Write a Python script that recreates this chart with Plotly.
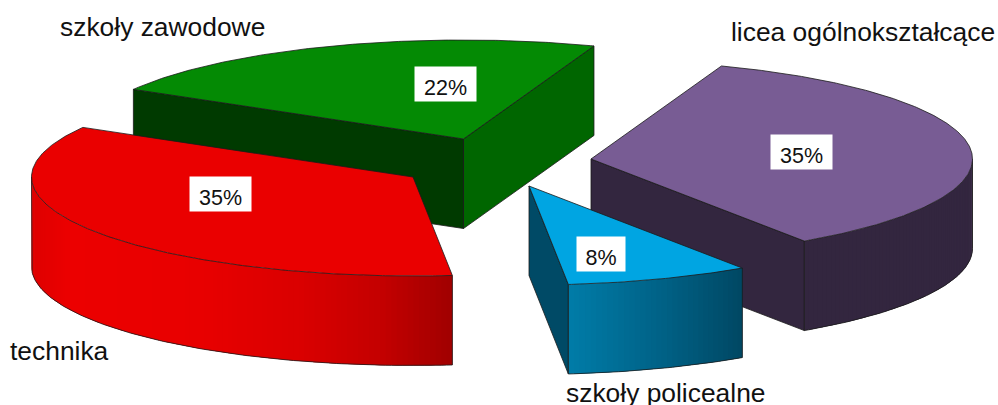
import math
import plotly.graph_objects as go

# --- data ---
categories = ["szkoły zawodowe", "technika", "szkoły policealne", "licea ogólnokształcące"]
values = [22.2, 35.0, 7.8, 35.0]
start_angle = 70.0

# --- style / layout ---
apex_x = [463.5, 413, 529, 591]
apex_y = [139, 177, 186, 159]
RX, RY, DEPTH = 381.5, 99, 89.5
top_col = ["#048a04", "#ea0000", "#00a5e2", "#785c94"]
# wall gradient: (x pixel, rgb) stops
wall_stops = [
    [(0, (0, 58, 0)), (998, (0, 58, 0))],
    [(31, (222, 0, 0)), (70, (236, 0, 0)), (200, (232, 0, 0)), (300, (218, 0, 0)), (380, (196, 0, 0)), (453, (160, 0, 0))],
    [(569, (0, 124, 168)), (660, (0, 98, 135)), (741, (0, 72, 100))],
    [(0, (51, 38, 63)), (998, (51, 38, 63))],
]
cut_start_col = ["#006600", None, "#004a66", "#33263f"]   # face at the slice's first edge
cut_end_col = ["#003a00", None, None, None]               # face at the slice's last edge
label_x = [58, 8, 564, 729]
label_y = [27, 351, 393, 32]
pct_x = [445.5, 220.5, 601, 801.5]
pct_y = [84, 194, 254, 152]
pct_w = [59, 59, 46, 59]
pct_h = 32
OUT = "#1a1a1a"

fig = go.Figure()


def pt(i, deg, dz=0.0):
    a = math.radians(deg)
    return apex_x[i] + RX * math.cos(a), apex_y[i] - RY * math.sin(a) + dz


def poly(xs, ys, fill, line=None, w=0.8):
    fig.add_trace(go.Scatter(
        x=xs + xs[:1], y=ys + ys[:1], mode="lines", fill="toself", fillcolor=fill,
        line=dict(color=line or fill, width=w), hoverinfo="skip", showlegend=False))


def grad(stops, x):
    if x <= stops[0][0]:
        return stops[0][1]
    for (x0, c0), (x1, c1) in zip(stops, stops[1:]):
        if x <= x1:
            t = (x - x0) / (x1 - x0)
            return tuple(round(a + (b - a) * t) for a, b in zip(c0, c1))
    return stops[-1][1]


# slice angle ranges from the values
ranges = []
a0 = start_angle
for v in values:
    a1 = a0 + v * 3.6
    ranges.append((a0, a1))
    a0 = a1


def draw_slice(i):
    a0, a1 = ranges[i]
    ax, ay = apex_x[i], apex_y[i]
    # straight cut faces
    if cut_start_col[i]:
        x, y = pt(i, a0)
        poly([ax, x, x, ax], [ay, y, y + DEPTH, ay + DEPTH], cut_start_col[i], OUT)
    if cut_end_col[i]:
        x, y = pt(i, a1)
        poly([ax, x, x, ax], [ay, y, y + DEPTH, ay + DEPTH], cut_end_col[i], OUT)
    # outer wall (only the part that faces the viewer)
    lo = max(a0, 180.0)
    hi = min(a1, 360.0)
    if hi > lo:
        n = max(2, int((hi - lo) * 1.2))
        angs = [lo + (hi - lo) * k / n for k in range(n + 1)]
        for k in range(n):
            # each strip overlaps the following ones so that no seam shows
            seg = angs[k:min(k + 3, n + 1)]
            top = [pt(i, a) for a in seg]
            xs = [p[0] for p in top]
            ys = [p[1] for p in top]
            c = grad(wall_stops[i], (pt(i, angs[k])[0] + pt(i, angs[k + 1])[0]) / 2)
            fig.add_trace(go.Scatter(
                x=xs + xs[::-1] + xs[:1], y=ys + [y + DEPTH for y in ys[::-1]] + ys[:1],
                mode="none", fill="toself", fillcolor="rgb(%d,%d,%d)" % c,
                hoverinfo="skip", showlegend=False))
        # wall outline
        bx = [pt(i, a)[0] for a in angs]
        by = [pt(i, a, DEPTH)[1] for a in angs]
        xs = [bx[0]] + bx + [bx[-1]]
        ys = [by[0] - DEPTH] + by + [by[-1] - DEPTH]
        fig.add_trace(go.Scatter(x=xs, y=ys, mode="lines", line=dict(color=OUT, width=0.8),
                                 hoverinfo="skip", showlegend=False))
    # top face
    n = int(a1 - a0) * 2
    angs = [a0 + (a1 - a0) * k / n for k in range(n + 1)]
    xs = [ax] + [pt(i, a)[0] for a in angs]
    ys = [ay] + [pt(i, a)[1] for a in angs]
    poly(xs, ys, top_col[i], OUT)


for i in [0, 3, 2, 1]:
    draw_slice(i)

ann = []
for i, name in enumerate(categories):
    ann.append(dict(x=label_x[i], y=label_y[i], text=name, showarrow=False, xanchor="left", yanchor="middle",
                    font=dict(family="Liberation Sans", size=26.4, color="#111111")))
    ann.append(dict(x=pct_x[i], y=pct_y[i], text=f"{round(values[i])}%", showarrow=False, xanchor="center",
                    yanchor="middle", width=pct_w[i], height=pct_h, bgcolor="#ffffff", borderpad=1,
                    valign="bottom",
                    font=dict(family="Liberation Sans", size=21.5, color="#111111")))

fig.update_layout(
    width=998, height=405, margin=dict(l=0, r=0, t=0, b=0), autosize=False,
    paper_bgcolor="#ffffff", plot_bgcolor="#ffffff", showlegend=False, annotations=ann,
    xaxis=dict(range=[0, 998], visible=False, fixedrange=True),
    yaxis=dict(range=[405, 0], visible=False, fixedrange=True),
)
fig.write_html("out.html", config={"displayModeBar": False},
               post_script="document.body.style.margin='0';document.body.style.overflow='hidden';")
